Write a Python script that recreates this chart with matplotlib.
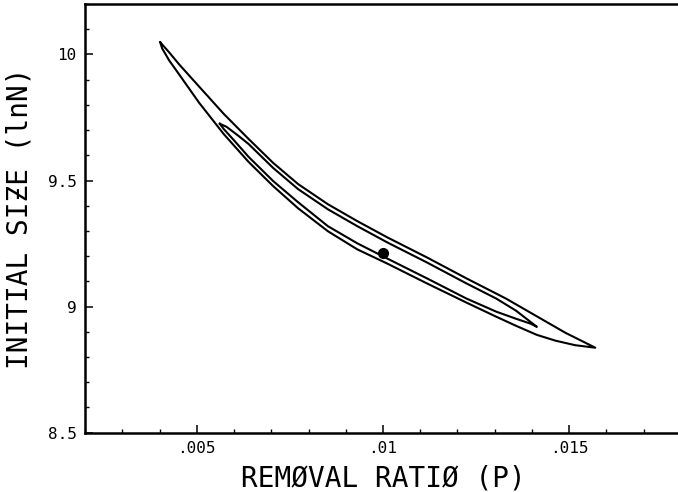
import numpy as np
import matplotlib
matplotlib.use('Agg')
import matplotlib.pyplot as plt
from matplotlib.ticker import FixedLocator, FixedFormatter, MultipleLocator

# outer contour: upper edge (left tip -> right tip), then lower edge back
outer_up_p = [0.00402, 0.00426, 0.00453, 0.00506, 0.00572, 0.00639, 0.00705, 0.00772, 0.00852,
              0.00931, 0.01011, 0.01118, 0.01224, 0.01330, 0.01410, 0.01490, 0.01543, 0.01570]
outer_up_n = [10.048, 10.008, 9.960, 9.873, 9.765, 9.665, 9.570, 9.486, 9.406,
              9.339, 9.275, 9.195, 9.112, 9.032, 8.964, 8.896, 8.857, 8.837]
outer_lo_p = [0.01570, 0.01516, 0.01463, 0.01413, 0.01357, 0.01304, 0.01224, 0.01118, 0.01011, 0.00931,
              0.00852, 0.00772, 0.00705, 0.00639, 0.00572, 0.00506, 0.00453, 0.00426, 0.00407, 0.00402]
outer_lo_n = [8.837, 8.847, 8.865, 8.888, 8.924, 8.960, 9.016, 9.092, 9.171, 9.227,
              9.299, 9.390, 9.478, 9.574, 9.685, 9.809, 9.920, 9.976, 10.024, 10.048]

# inner contour
inner_up_p = [0.00562, 0.00580, 0.00612, 0.00639, 0.00705, 0.00772, 0.00852,
              0.00931, 0.01011, 0.01118, 0.01224, 0.01304, 0.01357, 0.01413]
inner_up_n = [9.725, 9.713, 9.677, 9.645, 9.550, 9.466, 9.386,
              9.319, 9.255, 9.175, 9.092, 9.032, 8.984, 8.920]
inner_lo_p = [0.01413, 0.01397, 0.01357, 0.01304, 0.01224, 0.01118, 0.01011, 0.00931,
              0.00852, 0.00772, 0.00705, 0.00639, 0.00599, 0.00572, 0.00562]
inner_lo_n = [8.920, 8.932, 8.952, 8.980, 9.032, 9.112, 9.191, 9.251,
              9.319, 9.414, 9.498, 9.594, 9.661, 9.705, 9.725]

# best estimate
est_p = 0.0100
est_n = 9.212

x_ticks = [0.005, 0.01, 0.015]
x_labels = ['.005', '.01', '.015']
y_ticks = [8.5, 9, 9.5, 10]
y_labels = ['8.5', '9', '9.5', '10']

mono = 'DejaVu Sans Mono'

fig = plt.figure(figsize=(6.78, 4.92), dpi=100)
ax = fig.add_axes([0.1254, 0.1205, 0.8790, 0.8714])

ax.plot(outer_up_p + outer_lo_p, outer_up_n + outer_lo_n, color='black', lw=1.5,
        solid_joinstyle='round')
ax.plot(inner_up_p + inner_lo_p, inner_up_n + inner_lo_n, color='black', lw=1.5,
        solid_joinstyle='round')
ax.plot([est_p], [est_n], 'o', color='black', markersize=7)

ax.set_xlim(0.002, 0.018)
ax.set_ylim(8.5, 10.2)

ax.xaxis.set_major_locator(FixedLocator(x_ticks))
ax.xaxis.set_major_formatter(FixedFormatter(x_labels))
ax.xaxis.set_minor_locator(MultipleLocator(0.001))
ax.yaxis.set_major_locator(FixedLocator(y_ticks))
ax.yaxis.set_major_formatter(FixedFormatter(y_labels))
ax.yaxis.set_minor_locator(MultipleLocator(0.1))

ax.tick_params(which='both', direction='in', top=False, right=False, color='black')
ax.tick_params(which='major', length=6, width=1.1, pad=6, labelsize=11.5)
ax.tick_params(which='minor', length=3, width=1.0)
for lab in ax.get_xticklabels() + ax.get_yticklabels():
    lab.set_family(mono)

for s in ax.spines.values():
    s.set_linewidth(1.8)

ax.set_xlabel('REMØVAL RATIØ (P)', family=mono, fontsize=20, labelpad=6)
ax.set_ylabel('INITIAL SIƵE (lnN)', family=mono, fontsize=20, labelpad=10)

fig.savefig('out.png', dpi=100)
